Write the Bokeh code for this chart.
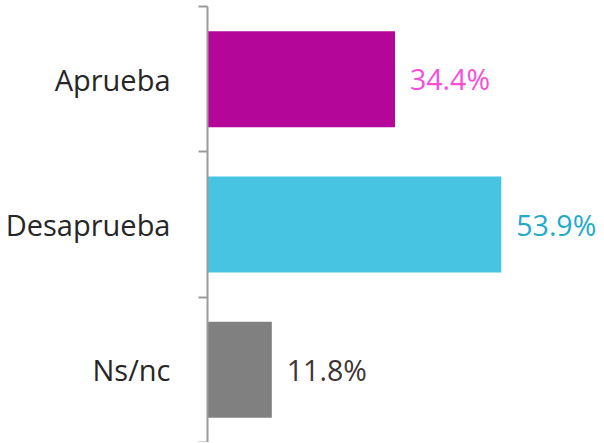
from bokeh.plotting import figure
from bokeh.models import ColumnDataSource, FixedTicker, Range1d
from bokeh.core.properties import value
from bokeh.embed import file_html
from bokeh.resources import INLINE

categories = ["Aprueba", "Desaprueba", "Ns/nc"]
values = [34.4, 53.9, 11.8]
bar_colors = ["#b4079a", "#46c4e1", "#808080"]
label_colors = ["#f74ed9", "#22aacb", "#3d3535"]

n = len(categories)
ypos = [n - i - 0.5 for i in range(n)]
labels = [f"{v}%" for v in values]

src = ColumnDataSource(dict(y=ypos, v=values, c=bar_colors, lc=label_colors, t=labels))

FONT = "Open Sans"

p = figure(width=600, height=442, output_backend="svg", toolbar_location=None,
           x_range=Range1d(0, 72.1), y_range=Range1d(0, n),
           min_border_left=207, min_border_right=0, min_border_top=6, min_border_bottom=0)
p.outline_line_color = None
p.grid.visible = False
p.xaxis.visible = False

p.hbar(y="y", right="v", left=0, height=0.66, fill_color="c", line_color=None, source=src)
p.text(x="v", y="y", text="t", text_color="lc", x_offset=15, text_align="left",
       text_baseline="middle", text_font=value(FONT), text_font_size="28.5px", source=src)

ax = p.yaxis[0]
ax.ticker = FixedTicker(ticks=ypos, minor_ticks=list(range(n + 1)))
ax.major_label_overrides = {y: c for y, c in zip(ypos, categories)}
ax.major_tick_out = 0
ax.major_tick_in = 0
ax.minor_tick_out = 9
ax.minor_tick_in = 0
ax.minor_tick_line_color = "#9a9a9a"
ax.minor_tick_line_width = 2
ax.axis_line_color = "#9a9a9a"
ax.axis_line_width = 2
ax.major_label_standoff = 28
ax.major_label_text_font = FONT
ax.major_label_text_font_size = "29px"
ax.major_label_text_color = "#262626"

open("out.html", "w").write(file_html(p, INLINE))
